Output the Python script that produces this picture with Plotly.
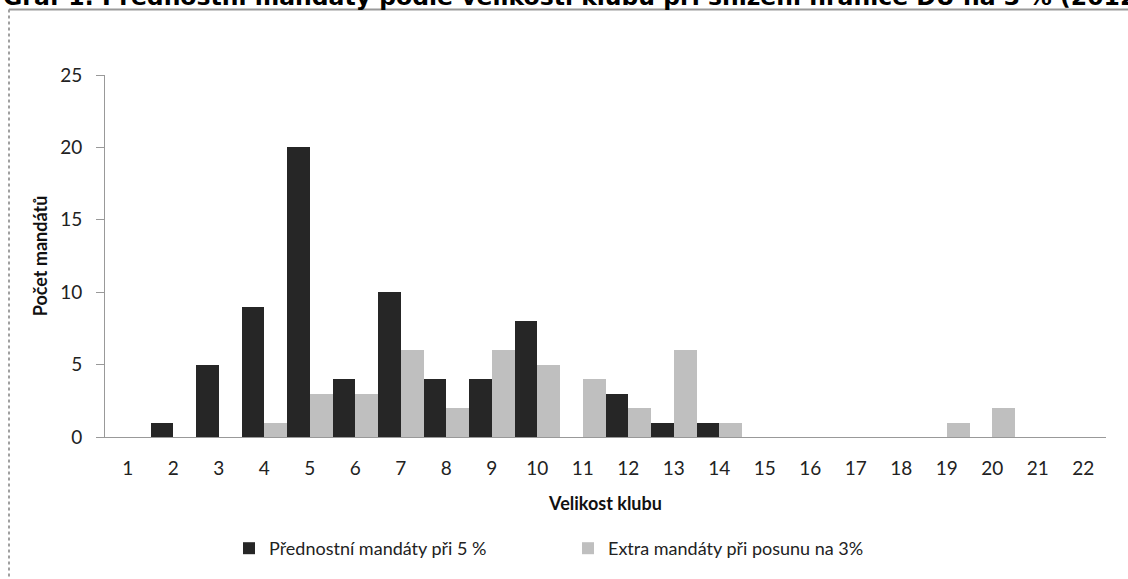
import plotly.graph_objects as go

categories = [str(i) for i in range(1, 23)]
prednostni_5 = [0, 1, 5, 9, 20, 4, 10, 4, 4, 8, 0, 3, 1, 1, 0, 0, 0, 0, 0, 0, 0, 0]
extra_3 = [0, 0, 0, 1, 3, 3, 6, 2, 6, 5, 4, 2, 6, 1, 0, 0, 0, 0, 1, 2, 0, 0]
y_ticks = [0, 5, 10, 15, 20, 25]

# body margin is removed by post_script, so figure coords == screen coords
W, H = 1128, 579
L, R, T, B = 105, 22, 75, 142
pw, ph = W - L - R, H - T - B

def px(sx):  # screen x -> paper x
    return (sx - L) / pw

def py(sy):  # screen y -> paper y
    return (H - B - sy) / ph

fig = go.Figure()
fig.add_trace(go.Bar(x=categories, y=prednostni_5, name="Přednostní mandáty při 5 %",
                     marker=dict(color="#262626", line=dict(width=0))))
fig.add_trace(go.Bar(x=categories, y=extra_3, name="Extra mandáty při posunu na 3%",
                     marker=dict(color="#bfbfbf", line=dict(width=0))))

font_main = "Lato, 'Open Sans', sans-serif"

fig.update_layout(
    width=W, height=H,
    margin=dict(l=L, r=R, t=T, b=B, autoexpand=False),
    paper_bgcolor="white", plot_bgcolor="white",
    barmode="group", bargap=0.0, bargroupgap=0.0,
    showlegend=True,
    legend=dict(orientation="h", x=px(229), y=py(530), xanchor="left", yanchor="top",
                font=dict(family=font_main, size=18, color="#222"),
                entrywidth=294, entrywidthmode="pixels", traceorder="normal"),
    font=dict(family=font_main, color="#222"),
)

fig.update_xaxes(
    type="category", range=[-0.5, 21.5], automargin=False,
    showline=True, linecolor="#999", linewidth=1,
    showgrid=False, ticks="", zeroline=False,
    tickfont=dict(family=font_main, size=19, color="#222"),
    ticklabelstandoff=14,
    title=dict(text="<b>Velikost klubu</b>", font=dict(family=font_main, size=18, color="#111"), standoff=19),
)
fig.update_yaxes(
    range=[0, 25], tickvals=y_ticks, automargin=False,
    showline=True, linecolor="#999", linewidth=1,
    showgrid=False, zeroline=False,
    ticks="outside", ticklen=8, tickcolor="#999",
    tickfont=dict(family=font_main, size=19, color="#222"),
    ticklabelstandoff=10,
    title=dict(text="<b>Počet mandátů</b>", font=dict(family=font_main, size=18, color="#111"), standoff=7),
)

# outer frame (top and left edges visible)
fig.add_shape(type="line", xref="paper", yref="paper", x0=px(9), x1=px(1135), y0=py(9.5), y1=py(9.5),
              line=dict(color="#9a9a9a", width=2), layer="above")
fig.add_shape(type="line", xref="paper", yref="paper", x0=px(9), x1=px(9), y0=py(9.5), y1=py(590),
              line=dict(color="#a0a0a0", width=2, dash="dot"), layer="above")

# cut-off title at the very top (as in the reference)
fig.add_annotation(text="<b>Graf 1: Přednostní mandáty podle velikosti klubu při snížení hranice DU na 3 % (2012)</b>",
                   xref="paper", yref="paper", x=px(1), y=py(13), xanchor="left", yanchor="bottom",
                   showarrow=False, font=dict(family="'DejaVu Sans', sans-serif", size=23.5, color="#000"))

fig.write_html("out.html", config={"displayModeBar": False},
               post_script="document.body.style.margin='0';document.body.style.overflow='hidden';")
